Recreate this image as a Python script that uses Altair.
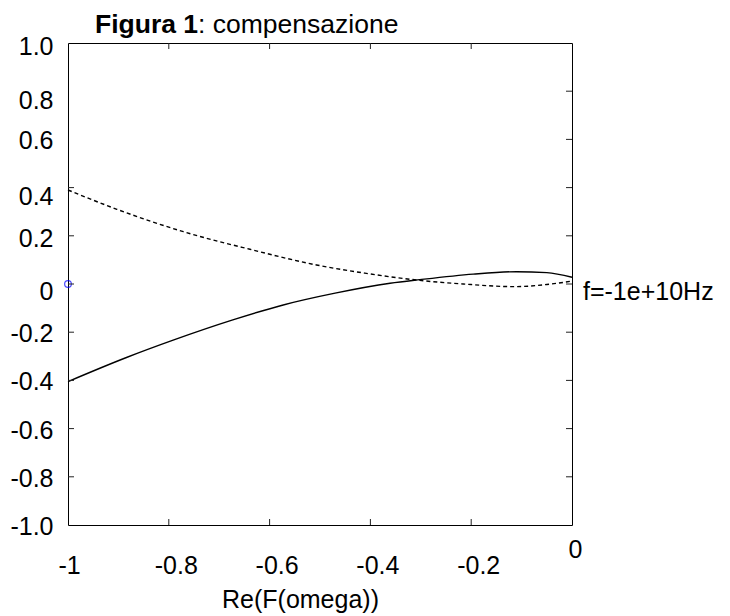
import altair as alt
import pandas as pd

# ---- data ----
solid_x = [-1.0, -0.884, -0.79, -0.673, -0.573, -0.47, -0.361, -0.302, -0.196, -0.11, -0.05, 0.0]
solid_y = [-0.405, -0.305, -0.232, -0.149, -0.087, -0.038, 0.003, 0.018, 0.041, 0.051, 0.047, 0.028]

dashed_x = [-1.0, -0.903, -0.771, -0.639, -0.507, -0.411, -0.361, -0.302, -0.216, -0.113, -0.05, 0.0]
dashed_y = [0.39, 0.31, 0.217, 0.144, 0.079, 0.045, 0.03, 0.015, 0.0, -0.011, -0.002, 0.012]

marker_x = [-1.0]
marker_y = [0.0]

x_ticks = [-1, -0.8, -0.6, -0.4, -0.2, 0]
y_ticks = [1, 0.8, 0.6, 0.4, 0.2, 0, -0.2, -0.4, -0.6, -0.8, -1]
x_inner_ticks = [-0.8, -0.6, -0.4, -0.2]
left_inner_ticks = [0.4, 0.2, 0, -0.2, -0.4, -0.6, -0.8]
right_inner_ticks = [0.8, 0.6, 0.4, 0.2, 0, -0.2, -0.4, -0.6, -0.8]

title_bold = "Figura 1"
title_rest = ": compensazione"
x_title = "Re(F(omega))"
freq_label = "f=-1e+10Hz"

W, H = 504, 482
FONT = "Liberation Sans"
FS = 25
TFS = 26.5

xs = alt.Scale(domain=[-1, 0], nice=False, zero=False)
ys = alt.Scale(domain=[-1, 1], nice=False, zero=False)

x_axis = alt.Axis(
    values=x_ticks,
    labelExpr="(datum.value < 0 ? '-' : '') + toString(abs(datum.value))",
    domain=False, ticks=False, grid=False,
    labelFont=FONT, labelFontSize=FS, labelColor="black",
    labelPadding=alt.condition("datum.value == 0", alt.value(12), alt.value(28)),
    labelOffset={"condition": [{"test": "datum.value == -1", "value": 1},
                               {"test": "datum.value == 0", "value": 3}],
                 "value": 7},
    labelFlush=False, labelOverlap=False,
    title=x_title, titleFont=FONT, titleFontSize=FS, titleFontWeight="normal",
    titleColor="black", titleX=232, titleY=82, titleBaseline="alphabetic",
    titleAlign="center",
)
y_axis = alt.Axis(
    values=y_ticks,
    labelExpr="datum.value == 0 ? '0' : (datum.value < 0 ? '-' : '') + format(abs(datum.value), '.1f')",
    domain=False, ticks=False, grid=False,
    labelFont=FONT, labelFontSize=FS, labelColor="black",
    labelPadding=15,
    labelOffset={"condition": [{"test": "datum.value == 0.8", "value": 9},
                               {"test": "datum.value == 0.4", "value": 9},
                               {"test": "datum.value == 0", "value": 7},
                               {"test": "datum.value == 1 || datum.value == 0.2", "value": 3}],
                 "value": 1.5},
    labelFlush=False, labelOverlap=False,
    title=None,
)

solid_df = pd.DataFrame({"x": solid_x, "y": solid_y})
dashed_df = pd.DataFrame({"x": dashed_x, "y": dashed_y})
marker_df = pd.DataFrame({"x": marker_x, "y": marker_y})

solid = alt.Chart(solid_df).mark_line(color="black", strokeWidth=1.4, interpolate="monotone").encode(
    x=alt.X("x:Q", scale=xs, axis=x_axis),
    y=alt.Y("y:Q", scale=ys, axis=y_axis),
)
dashed = alt.Chart(dashed_df).mark_line(color="black", strokeWidth=1.4, strokeDash=[4, 3],
                                        interpolate="monotone").encode(
    x=alt.X("x:Q", scale=xs), y=alt.Y("y:Q", scale=ys))
marker = alt.Chart(marker_df).mark_point(shape="circle", filled=False, color="#0000ff",
                                          size=45, strokeWidth=1.2).encode(
    x=alt.X("x:Q", scale=xs), y=alt.Y("y:Q", scale=ys))

tick_len = 6
left_t = alt.Chart(pd.DataFrame({"v": left_inner_ticks})).mark_rule(color="#222", strokeWidth=1).encode(
    y=alt.Y("v:Q", scale=ys), x=alt.value(0), x2=alt.value(tick_len))
right_t = alt.Chart(pd.DataFrame({"v": right_inner_ticks})).mark_rule(color="#222", strokeWidth=1).encode(
    y=alt.Y("v:Q", scale=ys), x=alt.value(W - tick_len), x2=alt.value(W))
top_t = alt.Chart(pd.DataFrame({"v": x_inner_ticks})).mark_rule(color="#222", strokeWidth=1).encode(
    x=alt.X("v:Q", scale=xs), y=alt.value(0), y2=alt.value(tick_len))
bot_t = alt.Chart(pd.DataFrame({"v": x_inner_ticks})).mark_rule(color="#222", strokeWidth=1).encode(
    x=alt.X("v:Q", scale=xs), y=alt.value(H - tick_len), y2=alt.value(H))

freq = alt.Chart(pd.DataFrame({"x": [0.0], "y": [0.0], "t": [freq_label]})).mark_text(
    align="left", baseline="alphabetic", dx=11, dy=16, font=FONT, fontSize=FS, color="black").encode(
    x=alt.X("x:Q", scale=xs), y=alt.Y("y:Q", scale=ys), text="t:N")

t1 = alt.Chart(pd.DataFrame({"t": [title_bold]})).mark_text(
    align="left", baseline="alphabetic", font=FONT, fontSize=TFS, fontWeight="bold", color="black").encode(
    x=alt.value(27), y=alt.value(-10), text="t:N")
t2 = alt.Chart(pd.DataFrame({"t": [title_rest]})).mark_text(
    align="left", baseline="alphabetic", font=FONT, fontSize=TFS, color="black").encode(
    x=alt.value(27 + 3.89 * TFS), y=alt.value(-10), text="t:N")

chart = alt.layer(solid, dashed, marker, left_t, right_t, top_t, bot_t, freq, t1, t2).properties(
    width=W, height=H,
    autosize=alt.AutoSizeParams(type="none"),
    padding={"left": 60, "top": 35, "right": 148, "bottom": 92},
    background="white",
).configure_view(stroke="black", strokeWidth=1)

chart.save("out.html", embed_options={"renderer": "svg", "actions": False})
